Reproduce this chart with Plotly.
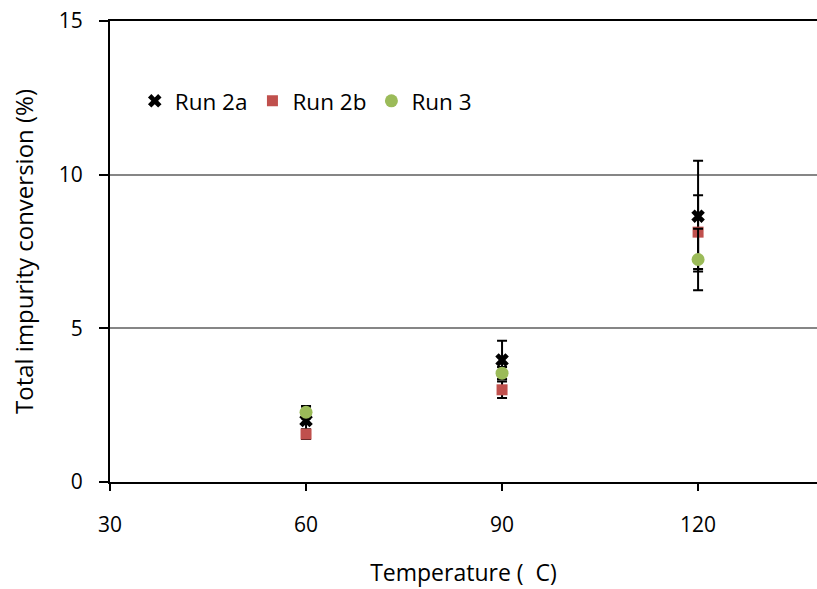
import plotly.graph_objects as go

temps = [60, 90, 120]
run2a = [2.0, 3.97, 8.65]
run2a_err = [0.45, 0.63, 1.8]
run2b = [1.56, 3.0, 8.13]
run2b_err = [0.16, 0.27, 1.2]
run3 = [2.27, 3.54, 7.24]
run3_err = [0.2, 0.2, 1.0]

x_ticks = [30, 60, 90, 120]
y_ticks = [0, 5, 10, 15]

FONT = "Open Sans"
err_style = dict(type="data", color="black", thickness=2, width=5, visible=True)

fig = go.Figure()
fig.add_trace(go.Scatter(
    x=temps, y=run2a, mode="markers", name="Run 2a",
    marker=dict(symbol="x", color="black", size=12, line=dict(width=0)),
    error_y=dict(array=run2a_err, **err_style),
))
fig.add_trace(go.Scatter(
    x=temps, y=run2b, mode="markers", name="Run 2b",
    marker=dict(symbol="square", color="#C0504D", size=11),
    error_y=dict(array=run2b_err, **err_style),
))
fig.add_trace(go.Scatter(
    x=temps, y=run3, mode="markers", name="Run 3",
    marker=dict(symbol="circle", color="#9BBB59", size=13),
    error_y=dict(array=run3_err, **err_style),
))
# invisible trace to enable a top border line
fig.add_trace(go.Scatter(x=[x_ticks[0]], y=[y_ticks[-1]], xaxis="x2", mode="markers",
                         marker=dict(opacity=0), showlegend=False, hoverinfo="skip"))

fig.update_layout(
    width=817, height=589,
    margin=dict(l=110, r=0, t=21, b=107),
    paper_bgcolor="white", plot_bgcolor="white",
    font=dict(family=FONT, size=21, color="black"),
    showlegend=True,
    legend=dict(orientation="h", x=0.035, y=0.826, xanchor="left", yanchor="middle",
                bgcolor="rgba(0,0,0,0)", font=dict(size=22.5), itemwidth=30,
                tracegroupgap=0),
    xaxis=dict(range=[30, 138.2], tickvals=x_ticks, ticks="outside", ticklen=7,
               tickwidth=2, tickcolor="black", showline=True, linecolor="black",
               linewidth=2, showgrid=False, zeroline=False,
               ticklabelstandoff=16, tickfont=dict(size=21),
               title=dict(text="Temperature (\u00a0\u00a0C)", standoff=28,
                          font=dict(size=23))),
    xaxis2=dict(overlaying="x", side="top", range=[30, 138.2], showline=True,
                linecolor="black", linewidth=2, showticklabels=False, ticks="",
                showgrid=False, zeroline=False),
    yaxis=dict(range=[0, 15], tickvals=y_ticks, ticks="outside", ticklen=9,
               tickwidth=2, tickcolor="black", showline=True, linecolor="black",
               linewidth=2, showgrid=True, gridcolor="#868686", gridwidth=2,
               zeroline=False, ticklabelstandoff=12, tickfont=dict(size=21),
               title=dict(text="Total impurity conversion (%)", standoff=18,
                          font=dict(size=24))),
)

fig.write_html("out.html")
